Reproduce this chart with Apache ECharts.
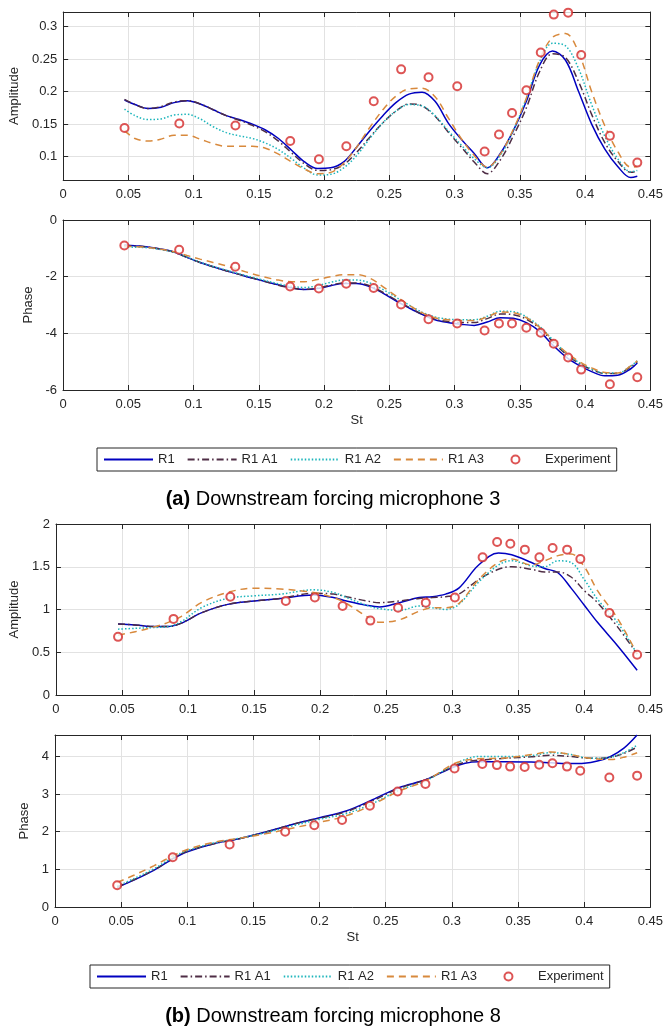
<!DOCTYPE html>
<html><head><meta charset="utf-8">
<script src="https://cdn.jsdelivr.net/npm/echarts@6/dist/echarts.min.js"></script>
<style>html,body{margin:0;padding:0;background:#fff}#c{width:666px;height:1032px}</style>
</head><body><div id="c"></div>
<script>
// ---------- data ----------
const seriesNames = ['R1', 'R1 A1', 'R1 A2', 'R1 A3'];
const expName = 'Experiment';
const xTickLabels = ['0','0.05','0.1','0.15','0.2','0.25','0.3','0.35','0.4','0.45'];

const expSt = [0.047,0.089,0.132,0.174,0.196,0.217,0.238,0.259,0.280,0.302,0.323,0.334,0.344,0.355,0.366,0.376,0.387,0.397,0.419,0.440];
const expAmpA = [0.144,0.151,0.148,0.124,0.096,0.116,0.185,0.234,0.222,0.208,0.108,0.134,0.167,0.202,0.260,0.318,0.321,0.256,0.132,0.091];
const expPhA  = [-0.90,-1.05,-1.65,-2.35,-2.42,-2.25,-2.40,-2.98,-3.50,-3.65,-3.90,-3.65,-3.65,-3.80,-3.98,-4.37,-4.85,-5.28,-5.80,-5.55];
const expAmpB = [0.68,0.89,1.15,1.10,1.14,1.04,0.87,1.02,1.08,1.14,1.61,1.79,1.77,1.70,1.61,1.72,1.70,1.59,0.96,0.47];
const expPhB  = [0.58,1.32,1.66,2.00,2.17,2.31,2.69,3.07,3.27,3.68,3.80,3.77,3.73,3.72,3.78,3.82,3.73,3.62,3.44,3.49];

// (a) curves
const stA = [0.047,0.055,0.065,0.075,0.085,0.095,0.105,0.115,0.125,0.135,0.145,0.155,0.165,0.175,0.185,0.195,0.205,0.215,0.225,0.235,0.245,0.255,0.265,0.275,0.285,0.295,0.305,0.315,0.325,0.335,0.345,0.355,0.365,0.375,0.385,0.395,0.405,0.415,0.425,0.435,0.44];
const ampA_R1 = [0.187,0.180,0.174,0.176,0.183,0.186,0.181,0.172,0.163,0.157,0.150,0.141,0.128,0.110,0.092,0.082,0.083,0.092,0.115,0.140,0.163,0.183,0.196,0.199,0.185,0.152,0.127,0.105,0.083,0.105,0.140,0.185,0.240,0.262,0.248,0.200,0.150,0.112,0.085,0.068,0.070];
const ampA_A1 = [0.188,0.180,0.174,0.177,0.184,0.186,0.181,0.172,0.163,0.156,0.148,0.138,0.124,0.106,0.089,0.079,0.080,0.088,0.107,0.130,0.152,0.170,0.181,0.178,0.162,0.138,0.115,0.092,0.074,0.095,0.132,0.175,0.230,0.258,0.252,0.215,0.165,0.122,0.093,0.076,0.078];
const ampA_A2 = [0.173,0.163,0.157,0.158,0.164,0.165,0.158,0.146,0.137,0.132,0.128,0.121,0.111,0.097,0.082,0.072,0.073,0.083,0.102,0.128,0.152,0.170,0.180,0.178,0.163,0.140,0.118,0.097,0.083,0.102,0.140,0.190,0.245,0.274,0.270,0.235,0.180,0.132,0.097,0.077,0.079];
const ampA_A3 = [0.140,0.128,0.124,0.127,0.133,0.133,0.127,0.120,0.116,0.116,0.116,0.113,0.104,0.092,0.081,0.074,0.076,0.090,0.115,0.145,0.172,0.193,0.204,0.205,0.192,0.160,0.128,0.102,0.084,0.104,0.142,0.190,0.248,0.283,0.289,0.260,0.200,0.148,0.108,0.084,0.085];
const phA_R1 = [-0.88,-0.91,-0.95,-1.02,-1.13,-1.32,-1.50,-1.65,-1.79,-1.92,-2.05,-2.17,-2.29,-2.39,-2.45,-2.42,-2.32,-2.24,-2.24,-2.35,-2.58,-2.85,-3.10,-3.33,-3.52,-3.62,-3.68,-3.72,-3.60,-3.45,-3.47,-3.62,-3.92,-4.40,-4.82,-5.12,-5.35,-5.50,-5.48,-5.25,-5.05];
const phA_A1 = [-0.90,-0.92,-0.96,-1.03,-1.14,-1.32,-1.50,-1.65,-1.79,-1.92,-2.05,-2.17,-2.30,-2.40,-2.45,-2.40,-2.30,-2.22,-2.22,-2.32,-2.55,-2.82,-3.08,-3.32,-3.50,-3.58,-3.62,-3.62,-3.48,-3.32,-3.34,-3.50,-3.82,-4.28,-4.72,-5.05,-5.28,-5.42,-5.42,-5.18,-5.00];
const phA_A2 = [-0.95,-0.96,-0.98,-1.04,-1.14,-1.31,-1.49,-1.64,-1.77,-1.90,-2.02,-2.14,-2.25,-2.34,-2.38,-2.32,-2.20,-2.12,-2.12,-2.22,-2.45,-2.72,-3.00,-3.25,-3.42,-3.50,-3.52,-3.52,-3.40,-3.22,-3.24,-3.42,-3.75,-4.22,-4.68,-5.02,-5.26,-5.40,-5.40,-5.15,-4.97];
const phA_A3 = [-0.92,-0.94,-0.97,-1.03,-1.12,-1.25,-1.38,-1.50,-1.62,-1.76,-1.90,-2.02,-2.12,-2.18,-2.18,-2.10,-2.00,-1.93,-1.93,-2.05,-2.35,-2.68,-3.00,-3.27,-3.45,-3.52,-3.55,-3.55,-3.42,-3.25,-3.27,-3.45,-3.78,-4.22,-4.65,-4.98,-5.22,-5.38,-5.40,-5.15,-4.97];

// (b) curves
const stB1 = [0.047,0.06,0.075,0.085,0.095,0.11,0.13,0.15,0.17,0.195,0.21,0.22,0.235,0.245,0.26,0.275,0.285,0.295,0.305,0.32,0.335,0.345,0.36,0.37,0.38,0.39,0.40,0.41,0.425,0.44];
const ampB_R1 = [0.83,0.82,0.80,0.80,0.84,0.96,1.06,1.10,1.13,1.17,1.14,1.10,1.05,1.03,1.08,1.14,1.15,1.18,1.25,1.52,1.66,1.64,1.55,1.48,1.43,1.25,1.05,0.85,0.58,0.29];
const ampB_A1 = [0.83,0.82,0.80,0.80,0.84,0.96,1.06,1.10,1.13,1.19,1.18,1.15,1.10,1.08,1.10,1.13,1.14,1.15,1.18,1.35,1.47,1.50,1.47,1.44,1.44,1.38,1.22,1.08,0.80,0.48];
const ampB_A2 = [0.77,0.78,0.79,0.80,0.86,1.02,1.13,1.16,1.18,1.23,1.20,1.14,1.05,1.01,0.99,1.04,1.02,1.00,1.06,1.32,1.52,1.57,1.51,1.50,1.57,1.55,1.35,1.12,0.85,0.48];
const ampB_A3 = [0.70,0.74,0.80,0.85,0.92,1.08,1.20,1.25,1.24,1.20,1.14,1.07,0.92,0.85,0.88,0.98,1.02,1.02,1.07,1.35,1.55,1.59,1.52,1.57,1.63,1.65,1.50,1.22,0.90,0.48];
const stB2 = [0.047,0.06,0.075,0.09,0.10,0.12,0.14,0.16,0.18,0.20,0.22,0.24,0.26,0.28,0.30,0.31,0.32,0.34,0.36,0.375,0.39,0.40,0.41,0.42,0.43,0.44];
const phB_R1 = [0.52,0.72,0.98,1.30,1.47,1.68,1.82,2.00,2.20,2.37,2.55,2.85,3.17,3.38,3.70,3.82,3.86,3.86,3.85,3.83,3.81,3.82,3.88,4.00,4.22,4.57];
const phB_A1 = [0.53,0.73,0.99,1.31,1.48,1.68,1.82,2.00,2.20,2.36,2.53,2.82,3.15,3.38,3.72,3.85,3.90,3.95,3.99,4.03,4.00,3.96,3.95,3.98,4.08,4.25];
const phB_A2 = [0.55,0.76,1.02,1.34,1.50,1.70,1.83,1.98,2.16,2.33,2.48,2.75,3.10,3.35,3.75,3.92,4.00,4.00,4.02,4.10,4.05,3.97,3.95,3.98,4.10,4.30];
const phB_A3 = [0.65,0.85,1.10,1.38,1.53,1.72,1.83,1.95,2.10,2.25,2.42,2.72,3.08,3.35,3.78,3.90,3.94,3.96,4.05,4.12,4.05,3.97,3.93,3.92,3.98,4.10];

// ---------- layout / style ----------
const FONT = '"Liberation Sans", Arial, Helvetica, sans-serif';
const INK = '#262626';
const colors = ['#0000c0', '#4e2d45', '#1cb5bb', '#d8893c'];
const dashes = ['solid', [7,3,1.5,3], [1.5,2], [7,5]];
const expColor = '#d42a2a';

const panels = [
  {xs: stA,  ys: [ampA_R1, ampA_A1, ampA_A2, ampA_A3], exp: expAmpA, grid: {left:63, right:14, top:12, height:168}, min:0.0643, max:0.322, interval:null, yName:'Amplitude', nameGap:38, st:false},
  {xs: stA,  ys: [phA_R1, phA_A1, phA_A2, phA_A3],     exp: expPhA,  grid: {left:63, right:14, top:220, height:170}, min:-6, max:0, interval:2, yName:'Phase', nameGap:24, st:true},
  {xs: stB1, ys: [ampB_R1, ampB_A1, ampB_A2, ampB_A3], exp: expAmpB, grid: {left:55, right:14, top:524, height:171}, min:0, max:2, interval:0.5, yName:'Amplitude', nameGap:32, st:false},
  {xs: stB2, ys: [phB_R1, phB_A1, phB_A2, phB_A3],     exp: expPhB,  grid: {left:55, right:14, top:735, height:172}, min:0, max:4.57, interval:1, yName:'Phase', nameGap:20, st:true},
];

const grids = [], xAxes = [], yAxes = [], series = [];
const tickStyle = {inside:true, length:5, lineStyle:{color:INK, width:1}};
const lineStyleAx = {show:true, onZero:false, lineStyle:{color:INK, width:1}};
const fmtY = v => String(Number(v.toFixed(3)));

panels.forEach((p, i) => {
  grids.push(Object.assign({containLabel:false}, p.grid));
  xAxes.push({
    type:'value', gridIndex:i, position:'bottom', min:0, max:0.45, interval:0.05,
    axisLine: lineStyleAx, axisTick: tickStyle,
    axisLabel:{color:INK, fontSize:13, fontFamily:FONT, margin:8, formatter: v => xTickLabels[Math.round(v/0.05)]},
    splitLine:{show:true, lineStyle:{color:'#e2e2e2', width:1}},
    name: p.st ? 'St' : '', nameLocation:'middle', nameGap:24,
    nameTextStyle:{color:INK, fontSize:13, fontFamily:FONT}
  });
  xAxes.push({
    type:'value', gridIndex:i, position:'top', min:0, max:0.45, interval:0.05,
    axisLine: lineStyleAx, axisTick: tickStyle, axisLabel:{show:false}, splitLine:{show:false}
  });
  const yBase = {type:'value', gridIndex:i, min:p.min, max:p.max};
  if (p.interval) yBase.interval = p.interval; else yBase.splitNumber = 5;
  yAxes.push(Object.assign({}, yBase, {
    position:'left',
    axisLine: lineStyleAx, axisTick: tickStyle,
    axisLabel:{color:INK, fontSize:13, fontFamily:FONT, margin:6, formatter: fmtY, showMinLabel: p.min === 0 || p.min === -6, showMaxLabel: p.max === 0 || p.max === 2},
    splitLine:{show:true, lineStyle:{color:'#e2e2e2', width:1}},
    name:p.yName, nameLocation:'middle', nameGap:p.nameGap, nameRotate:90,
    nameTextStyle:{color:INK, fontSize:13, fontFamily:FONT}
  }));
  yAxes.push(Object.assign({}, yBase, {
    position:'right', axisLine: lineStyleAx, axisTick: tickStyle,
    axisLabel:{show:false}, splitLine:{show:false}
  }));
  p.ys.forEach((ys, k) => {
    series.push({
      type:'line', name:seriesNames[k], xAxisIndex:2*i, yAxisIndex:2*i,
      data: p.xs.map((x, j) => [x, ys[j]]),
      symbol:'none', showSymbol:false, smooth:0.35, clip:true,
      lineStyle:{color:colors[k], width:1.5, type:dashes[k]},
      itemStyle:{color:colors[k]}, z: 2 + k
    });
  });
  series.push({
    type:'scatter', name:expName, xAxisIndex:2*i, yAxisIndex:2*i,
    data: expSt.map((x, j) => [x, p.exp[j]]),
    symbol:'emptyCircle', symbolSize:8,
    itemStyle:{color:expColor, borderColor:expColor, borderWidth:1.5}, z: 10
  });
});

const legendTxt = {color:INK, fontSize:13, fontFamily:FONT};
const legendData = seriesNames.map(n => ({name:n, itemStyle:{opacity:0}})).concat([{name:expName}]);
const legendBase = {
  data: legendData, orient:'horizontal',
  itemWidth:49, itemHeight:8, itemGap:12,
  borderColor:INK, borderWidth:1, padding:[5,6],
  textStyle:legendTxt, selectedMode:false,
  formatter: name => name === seriesNames[3] ? name + '    ' : name
};
const legends = [
  Object.assign({}, legendBase, {left:97, top:448}),
  Object.assign({}, legendBase, {left:90, top:965})
];

const capStyle = {color:'#000', fontSize:20, fontWeight:'normal', fontFamily:FONT, rich:{b:{fontWeight:'bold', fontSize:20, fontFamily:FONT, color:'#000'}}};
const titles = [
  {text:'{b|(a)} Downstream forcing microphone 3', left:'center', top:489, padding:0, textStyle:capStyle},
  {text:'{b|(b)} Downstream forcing microphone 8', left:'center', top:1006, padding:0, textStyle:capStyle}
];

const chart = echarts.init(document.getElementById('c'), null, {renderer:'canvas'});
chart.setOption({
  animation:false, backgroundColor:'#fff',
  title:titles, legend:legends, grid:grids, xAxis:xAxes, yAxis:yAxes, series:series
});
</script></body></html>
